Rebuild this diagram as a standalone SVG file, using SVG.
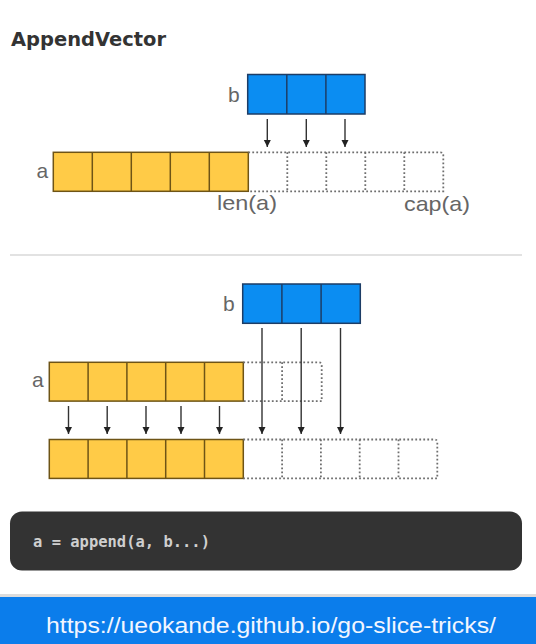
<svg xmlns="http://www.w3.org/2000/svg" width="536" height="644" viewBox="0 0 536 644">
<defs>
<marker id="ah" viewBox="0 0 10 10" refX="10" refY="5" markerWidth="7" markerHeight="8" markerUnits="userSpaceOnUse" orient="auto">
<path d="M0,0 L10,5 L0,10 z" fill="#222"/>
</marker>
<style>
.yel{fill:#FFCB47;stroke:#6e5416;stroke-width:1.5}
.blu{fill:#0B8DF2;stroke:#1d3d66;stroke-width:1.5}
.dot{fill:none;stroke:#6f6f6f;stroke-width:1.8;stroke-dasharray:1.8 2.2}
.lbl{font-family:"Liberation Sans","DejaVu Sans",sans-serif;font-size:21px;fill:#666}
.arr{stroke:#333;stroke-width:1.4;fill:none;marker-end:url(#ah)}
</style>
</defs>
<rect x="0" y="0" width="536" height="644" fill="#ffffff"/>

<g id="title">
<text x="11" y="46" font-family="'DejaVu Sans',sans-serif" font-weight="bold" font-size="19" fill="#333" textLength="155" lengthAdjust="spacingAndGlyphs">AppendVector</text>
</g>

<g id="top-b">
<rect class="blu" x="247.7" y="74.5" width="117.3" height="39.5"/>
<line class="blu" x1="286.8" y1="74.5" x2="286.8" y2="114"/>
<line class="blu" x1="325.9" y1="74.5" x2="325.9" y2="114"/>
<text class="lbl" x="228" y="101.5">b</text>
</g>

<g id="top-a">
<rect class="yel" x="53.3" y="152.3" width="195" height="39"/>
<line class="yel" x1="92.3" y1="152.3" x2="92.3" y2="191.3"/>
<line class="yel" x1="131.3" y1="152.3" x2="131.3" y2="191.3"/>
<line class="yel" x1="170.3" y1="152.3" x2="170.3" y2="191.3"/>
<line class="yel" x1="209.3" y1="152.3" x2="209.3" y2="191.3"/>
<path class="dot" d="M248.3,152.3 H440.3 Q443.3,152.3 443.3,155.3 V191.3 H248.3"/>
<line class="dot" x1="287.3" y1="152.3" x2="287.3" y2="191.3"/>
<line class="dot" x1="326.3" y1="152.3" x2="326.3" y2="191.3"/>
<line class="dot" x1="365.3" y1="152.3" x2="365.3" y2="191.3"/>
<line class="dot" x1="404.3" y1="152.3" x2="404.3" y2="191.3"/>
<text class="lbl" x="36.5" y="178">a</text>
<text class="lbl" x="217" y="210" textLength="60" lengthAdjust="spacingAndGlyphs">len(a)</text>
<text class="lbl" x="404" y="211" textLength="66" lengthAdjust="spacingAndGlyphs">cap(a)</text>
</g>

<g id="separator">
<line x1="10" y1="255" x2="522" y2="255" stroke="#e2e2e2" stroke-width="2"/>
</g>

<g id="bottom-b">
<rect class="blu" x="242.7" y="284" width="117.6" height="39.3"/>
<line class="blu" x1="281.9" y1="284" x2="281.9" y2="323.3"/>
<line class="blu" x1="321.1" y1="284" x2="321.1" y2="323.3"/>
<text class="lbl" x="223" y="311">b</text>
</g>

<g id="mid-a">
<rect class="yel" x="49.3" y="362.3" width="194" height="38.8"/>
<line class="yel" x1="88.1" y1="362.3" x2="88.1" y2="401.1"/>
<line class="yel" x1="126.9" y1="362.3" x2="126.9" y2="401.1"/>
<line class="yel" x1="165.7" y1="362.3" x2="165.7" y2="401.1"/>
<line class="yel" x1="204.5" y1="362.3" x2="204.5" y2="401.1"/>
<path class="dot" d="M243.3,362.3 H318.7 Q321.7,362.3 321.7,365.3 V401.1 H243.3"/>
<line class="dot" x1="282.1" y1="362.3" x2="282.1" y2="401.1"/>
<text class="lbl" x="32" y="387">a</text>
</g>

<g id="bottom-a">
<rect class="yel" x="49.3" y="439.5" width="194" height="38.9"/>
<line class="yel" x1="88.1" y1="439.5" x2="88.1" y2="478.4"/>
<line class="yel" x1="126.9" y1="439.5" x2="126.9" y2="478.4"/>
<line class="yel" x1="165.7" y1="439.5" x2="165.7" y2="478.4"/>
<line class="yel" x1="204.5" y1="439.5" x2="204.5" y2="478.4"/>
<path class="dot" d="M243.3,439.5 H434.3 Q437.3,439.5 437.3,442.5 V478.4 H243.3"/>
<line class="dot" x1="282.1" y1="439.5" x2="282.1" y2="478.4"/>
<line class="dot" x1="320.9" y1="439.5" x2="320.9" y2="478.4"/>
<line class="dot" x1="359.7" y1="439.5" x2="359.7" y2="478.4"/>
<line class="dot" x1="398.5" y1="439.5" x2="398.5" y2="478.4"/>
</g>

<g id="connectors">
<line class="arr" x1="267.3" y1="119" x2="267.3" y2="147"/>
<line class="arr" x1="306.3" y1="119" x2="306.3" y2="147"/>
<line class="arr" x1="345" y1="119" x2="345" y2="147"/>
<line class="arr" x1="68.5" y1="406" x2="68.5" y2="434"/>
<line class="arr" x1="107.2" y1="406" x2="107.2" y2="434"/>
<line class="arr" x1="146" y1="406" x2="146" y2="434"/>
<line class="arr" x1="181" y1="406" x2="181" y2="434"/>
<line class="arr" x1="219.5" y1="406" x2="219.5" y2="434"/>
<line class="arr" x1="262" y1="328" x2="262" y2="434"/>
<line class="arr" x1="301.2" y1="328" x2="301.2" y2="434"/>
<line class="arr" x1="340.5" y1="328" x2="340.5" y2="434"/>
</g>

<g id="code">
<rect x="10" y="511.5" width="512" height="59" rx="12" fill="#333333"/>
<text x="33" y="547" font-family="'DejaVu Sans Mono','Liberation Mono',monospace" font-weight="bold" font-size="15" fill="#cfcfcf" textLength="177" lengthAdjust="spacingAndGlyphs">a = append(a, b...)</text>
</g>

<g id="url">
<rect x="0" y="594" width="536" height="3" fill="#dcdcdc"/>
<rect x="0" y="597" width="536" height="47" fill="#0B7DEB"/>
<text x="46" y="633" font-family="'Liberation Sans',Arial,sans-serif" font-size="22" fill="#f2f6ff" textLength="450" lengthAdjust="spacingAndGlyphs">https://ueokande.github.io/go-slice-tricks/</text>
</g>
</svg>
